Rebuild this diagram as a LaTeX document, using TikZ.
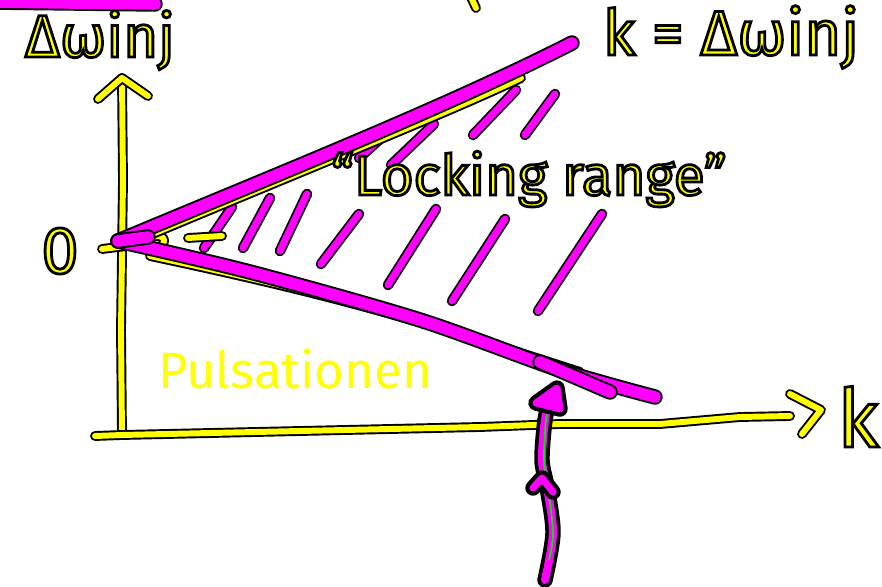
\documentclass[tikz,border=0pt]{standalone}
\usepackage{fontspec}
\setmainfont{Fira Sans}
\definecolor{hlyellow}{RGB}{255,255,0}
\definecolor{hlmagenta}{RGB}{255,0,255}
\definecolor{hlgreen}{RGB}{0,235,0}
% gelbe Schrift mit schwarzem Rand
\newcommand{\outlined}[1]{\special{pdf:literal q 2 Tr 1.6 w 0 0 0 RG}#1\special{pdf:literal Q}}

\begin{document}
\begin{tikzpicture}[x=0.02cm,y=-0.02cm,
  ypen/.style={draw=hlyellow,line width=3.4pt,line cap=round,line join=round,
    preaction={draw=black,line width=5.6pt,line cap=round,line join=round}},
  mpen/.style={draw=hlmagenta,line width=6.6pt,line cap=round,line join=round,
    preaction={draw=black,line width=8.8pt,line cap=round,line join=round}},
  hatchpen/.style={draw=hlmagenta,line width=4pt,line cap=round,
    preaction={draw=black,line width=6pt,line cap=round}},
  hand/.style={text=hlyellow,inner sep=0pt,anchor=base}]
  \useasboundingbox (0,0) rectangle (882,587);

  % Reste oben
  \draw[mpen] (-10,2) -- (155,4);
  \draw[ypen] (470,-5) -- (476,8);

  % Achsen
  \coordinate (O) at (122,435);
  \coordinate (ytop) at (122,78);
  \coordinate (xend) at (790,416);
  \draw[ypen] (O) -- (121,330) -- (123,180) -- (ytop);
  \draw[ypen] (98,99) -- (ytop) -- (148,96);
  \draw[ypen] (95,436) -- (O) -- (300,431) -- (480,427) -- (560,424)
    -- (660,424) -- (740,417) -- (xend);
  \draw[ypen] (790,394) -- (821,410) -- (802,434);
  \draw[ypen] (102,249) -- (135,245);

  % Achsenbeschriftung
  \node[hand,font=\fontsize{34}{34}\selectfont] (ylab) at (100,57) {\outlined{Δωinj}};
  \node[hand,font=\fontsize{46}{46}\selectfont] (xlab) at (858,447) {\outlined{k}};
  \node[hand,font=\fontsize{38}{38}\selectfont,anchor=center] (zero) at (60,251) {\outlined{0}};
  \node[hand,font=\fontsize{36}{36}\selectfont] (kdef) at (731,55) {\outlined{k = Δωinj}};

  % Schraffur
  \foreach \xa/\ya/\xb/\yb in {516/90/473/135,555/94/525/135,434/124/391/165,
      380/139/359/158,602/214/538/311,505/219/452/301,
      436/209/388/285,359/214/321/264,307/194/280/251,
      270/198/243/248,232/207/204/248}
    \draw[hatchpen] (\xa,\ya) -- (\xb,\yb);
  \draw[ypen] (188,238) -- (222,236);
  \draw[ypen] (145,242) .. controls (155,232) and (168,236) .. (163,244);

  % Grenzen
  \coordinate (apex) at (118,241);
  \coordinate (uend) at (572,43);
  \coordinate (lend) at (655,397);
  \draw[ypen] (124,246) .. controls (300,172) and (450,112) .. (521,78);
  \draw[mpen] (apex) .. controls (300,165) and (450,105) .. (uend);
  \draw[ypen] (150,256) to[out=-12,in=162] (580,372);
  \draw[mpen] plot[smooth] coordinates {(apex) (250,272) (420,320) (560,370) (lend)};
  \draw[mpen] (540,362) -- (610,392);
  \draw[mpen] (apex) -- (148,237);

  % Texte
  \node[hand,font=\fontsize{32}{32}\selectfont] (lrange) at (529,195) {\outlined{“Locking range”}};
  \node[hand,font=\fontsize{29}{29}\selectfont] (puls) at (295,388) {Pulsationen};

  % Pfeil unten
  \coordinate (tail) at (545,580);
  \coordinate (tip) at (550,400);
  \draw[mpen,line width=4.6pt,preaction={draw=black,line width=6.6pt,line cap=round,line join=round}]
    plot[smooth] coordinates {(tail) (553,533) (547,487) (542,460) (545,420) (tip)};
  \draw[hlgreen,line width=1pt] plot[smooth] coordinates {(549,560) (553,533) (548,487) (544,460) (546,420) (550,408)};
  \draw[mpen,fill=hlmagenta,line width=4pt,preaction={draw=black,line width=6pt,line cap=round,line join=round}]
    (536,403) -- (557,388) -- (560,409) -- cycle;
  \draw[mpen,line width=4pt,preaction={draw=black,line width=6pt,line cap=round,line join=round}]
    (533,488) -- (542,478) -- (553,492);
\end{tikzpicture}
\end{document}
